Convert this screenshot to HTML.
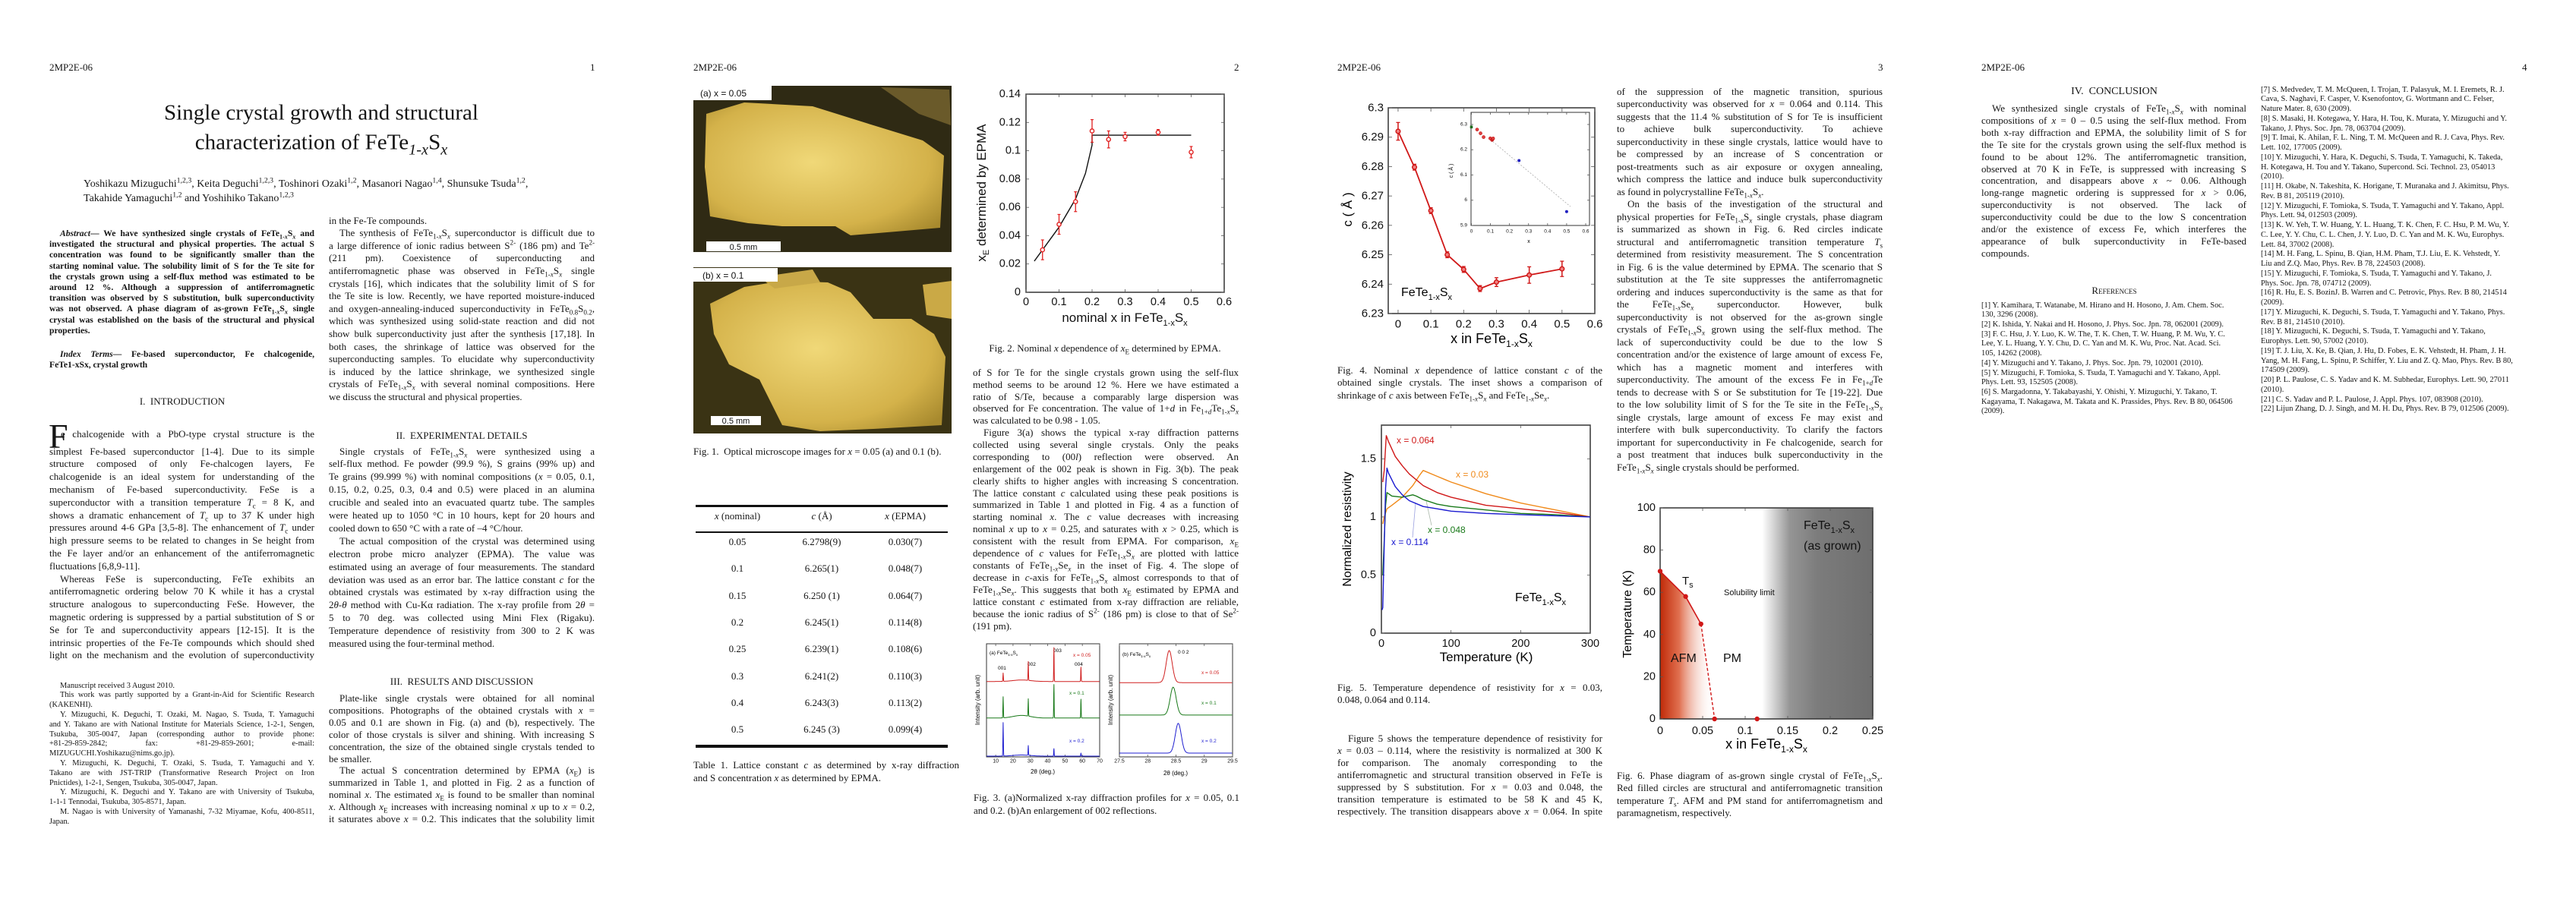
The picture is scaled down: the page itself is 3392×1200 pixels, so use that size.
<!DOCTYPE html>
<html><head><meta charset="utf-8">
<style>
*{margin:0;padding:0;box-sizing:border-box}
body{width:3392px;height:1200px;background:#fff;position:relative;overflow:hidden;font-family:"Liberation Serif",serif;color:#151515}
.a{position:absolute;white-space:nowrap}
.b{position:absolute;font-size:13px}
.b>div{overflow:hidden;white-space:normal;text-align:justify;text-align-last:justify}
.b>div.e{text-align-last:left}
.b>div.i{text-indent:14px}
.b.L>div{text-align:left;text-align-last:left}
sub,sup{font-size:70%;line-height:0}
.c{transform:translate(-50%,-50%)}
.m{transform:translateY(-50%)}
svg text{font-family:"Liberation Sans",sans-serif}
</style></head>
<body>
<svg id="charts" width="3392" height="1200" style="position:absolute;left:0;top:0" xmlns="http://www.w3.org/2000/svg">
<defs>
<linearGradient id="afmg" x1="0" x2="1" y1="0" y2="0"><stop offset="0" stop-color="#c02a08"/><stop offset="0.35" stop-color="#e07050"/><stop offset="1" stop-color="#fff" stop-opacity="0"/></linearGradient>
<linearGradient id="grayg" x1="0" x2="1" y1="0" y2="0"><stop offset="0" stop-color="#fff"/><stop offset="0.25" stop-color="#959595"/><stop offset="0.5" stop-color="#7c7c7c"/><stop offset="1" stop-color="#6e6e6e"/></linearGradient>
<radialGradient id="gold" cx="0.45" cy="0.45" r="0.7"><stop offset="0" stop-color="#f0d878"/><stop offset="0.7" stop-color="#d4b24a"/><stop offset="1" stop-color="#a88a2e"/></radialGradient>
</defs>
<g>
<rect x="913" y="113" width="340" height="219" fill="#2f2a14"/>
<polygon points="930,150 980,135 1070,140 1150,165 1215,185 1243,205 1238,300 1180,305 1120,310 1100,298 1030,298 985,294 935,285 928,220" fill="url(#gold)"/>
<polygon points="1160,115 1250,118 1252,165 1210,150" fill="#6a5a2a"/>
<rect x="913" y="113" width="103" height="19" fill="#fff"/>
<text x="922" y="127" font-size="12" fill="#111">(a)  x = 0.05</text>
<rect x="930" y="318" width="98" height="13" fill="#fff"/>
<text x="979" y="329" font-size="11" text-anchor="middle" fill="#111">0.5 mm</text>
</g>
<g>
<rect x="913" y="352" width="340" height="219" fill="#3a3314"/>
<polygon points="935,400 980,378 1030,370 1090,372 1120,385 1150,420 1200,420 1230,440 1245,470 1240,560 1150,565 1080,568 1030,560 1000,500 960,480 940,440" fill="url(#gold)"/>
<polygon points="1000,365 1070,355 1080,372 1020,380" fill="#c8a848"/>
<polygon points="1215,375 1253,370 1253,420 1220,415" fill="#caa946"/>
<rect x="913" y="353" width="111" height="18" fill="#fff"/>
<text x="925" y="367" font-size="12" fill="#111">(b)  x = 0.1</text>
<rect x="936" y="548" width="66" height="12" fill="#fff"/>
<text x="969" y="558" font-size="11" text-anchor="middle" fill="#111">0.5 mm</text>
</g>
<text transform="translate(1298,254) rotate(-90)" font-size="17" text-anchor="middle" fill="#111">x<tspan font-size="11" dy="4">E</tspan><tspan dy="-4"> determined by EPMA</tspan></text>
<text x="1481" y="424" font-size="17" text-anchor="middle" fill="#111">nominal x in FeTe<tspan font-size="11" dy="5">1-x</tspan><tspan dy="-5">S</tspan><tspan font-size="11" dy="5">x</tspan></text>
<text transform="translate(1290,922) rotate(-90)" font-size="8" text-anchor="middle">Intensity (arb. unit)</text>
<text x="1373" y="1019" font-size="8" text-anchor="middle">2θ (deg.)</text>
<text transform="translate(1465,922) rotate(-90)" font-size="8" text-anchor="middle">Intensity (arb. unit)</text>
<text x="1548" y="1021" font-size="8" text-anchor="middle">2θ (deg.)</text>
<text x="1303" y="862" font-size="6.5">(a)  FeTe<tspan font-size="4.5" dy="2">1-x</tspan><tspan dy="-2">S</tspan><tspan font-size="4.5" dy="2">x</tspan></text>
<text x="1314" y="882" font-size="6.5">001</text>
<text x="1353" y="877" font-size="6.5">002</text>
<text x="1387" y="859" font-size="6.5">003</text>
<text x="1415" y="877" font-size="6.5">004</text>
<text x="1413" y="865" font-size="6.5" fill="#d02020">x = 0.05</text>
<text x="1408" y="915" font-size="6.5" fill="#1a7a1a">x = 0.1</text>
<text x="1408" y="978" font-size="6.5" fill="#2020d0">x = 0.2</text>
<text x="1478" y="864" font-size="6.5">(b)  FeTe<tspan font-size="4.5" dy="2">1-x</tspan><tspan dy="-2">S</tspan><tspan font-size="4.5" dy="2">x</tspan></text>
<text x="1551" y="861" font-size="6.5">0 0 2</text>
<text x="1582" y="888" font-size="6.5" fill="#d02020">x = 0.05</text>
<text x="1582" y="928" font-size="6.5" fill="#1a7a1a">x = 0.1</text>
<text x="1582" y="978" font-size="6.5" fill="#2020d0">x = 0.2</text>
<text transform="translate(1780,276) rotate(-90)" font-size="17" text-anchor="middle">c ( Å )</text>
<text x="1964" y="452" font-size="18" text-anchor="middle">x in FeTe<tspan font-size="12" dy="5">1-x</tspan><tspan dy="-5">S</tspan><tspan font-size="12" dy="5">x</tspan></text>
<text x="1845" y="390" font-size="16">FeTe<tspan font-size="11" dy="5">1-x</tspan><tspan dy="-5">S</tspan><tspan font-size="11" dy="5">x</tspan></text>
<text transform="translate(1913,225) rotate(-90)" font-size="7" text-anchor="middle">c ( Å )</text>
<text x="2013" y="320" font-size="7" text-anchor="middle">x</text>
<rect x="2021" y="155" width="63" height="42" fill="#fff" stroke="#444" stroke-width="0.8"/>
<circle cx="2030" cy="163" r="1.8" fill="none" stroke="#e03030" stroke-width="0.7"/>
<text x="2036" y="166" font-size="6.5" fill="#e03030">FeTe<tspan font-size="4" dy="2">1-x</tspan><tspan dy="-2">S</tspan><tspan font-size="4" dy="2">x</tspan></text>
<circle cx="2030" cy="176" r="1.8" fill="none" stroke="#3030e0" stroke-width="0.7"/>
<text x="2036" y="179" font-size="6.5" fill="#3030e0">FeTe<tspan font-size="4" dy="2">1-x</tspan><tspan dy="-2">Se</tspan><tspan font-size="4" dy="2">x</tspan></text>
<rect x="2028.5" y="187" width="3" height="3" fill="#1a6a1a"/>
<text x="2036" y="191" font-size="6.5" fill="#1a6a1a">FeTe</text>
<text transform="translate(1779,697) rotate(-90)" font-size="16" text-anchor="middle">Normalized resistivity</text>
<text x="1957" y="871" font-size="17" text-anchor="middle">Temperature (K)</text>
<text x="1995" y="792" font-size="16">FeTe<tspan font-size="11" dy="5">1-x</tspan><tspan dy="-5">S</tspan><tspan font-size="11" dy="5">x</tspan></text>
<text x="1839" y="584" font-size="12" fill="#d01818">x = 0.064</text>
<text x="1917" y="629" font-size="12" fill="#f08a1a">x = 0.03</text>
<text x="1880" y="702" font-size="12" fill="#1a7a1a">x = 0.048</text>
<text x="1832" y="718" font-size="12" fill="#1a1ad0">x = 0.114</text>
<line x1="1860" y1="708" x2="1864" y2="662" stroke="#9aa0e0" stroke-width="0.8"/>
<line x1="1885" y1="692" x2="1878" y2="660" stroke="#aab8aa" stroke-width="0.8"/>
<text transform="translate(2148,809) rotate(-90)" font-size="16" text-anchor="middle">Temperature (K)</text>
<text x="2326" y="986" font-size="18" text-anchor="middle">x in FeTe<tspan font-size="12" dy="5">1-x</tspan><tspan dy="-5">S</tspan><tspan font-size="12" dy="5">x</tspan></text>
</svg>

<div class="a m" style="left:65px;top:89px;font-size:13px">2MP2E-06</div>
<div class="a m" style="left:777px;top:89px;font-size:13px">1</div>
<div class="a c" style="left:423px;top:149px;font-size:29px">Single crystal growth and structural</div>
<div class="a c" style="left:423px;top:188px;font-size:29px">characterization of FeTe<sub><i>1-x</i></sub>S<sub><i>x</i></sub></div>
<div class="a m" style="left:110px;top:243px;font-size:14px">Yoshikazu Mizuguchi<sup>1,2,3</sup>, Keita Deguchi<sup>1,2,3</sup>, Toshinori Ozaki<sup>1,2</sup>, Masanori Nagao<sup>1,4</sup>, Shunsuke Tsuda<sup>1,2</sup>,</div>
<div class="a m" style="left:110px;top:262px;font-size:14px">Takahide Yamaguchi<sup>1,2</sup> and Yoshihiko Takano<sup>1,2,3</sup></div>

<div class="b" style="left:65px;top:301px;width:349px;font-size:11.6px;font-weight:bold;line-height:14.2px">
<div class="i"><i>Abstract</i>— We have synthesized single crystals of FeTe<sub>1-<i>x</i></sub>S<sub><i>x</i></sub> and</div>
<div>investigated the structural and physical properties. The actual S</div>
<div>concentration was found to be significantly smaller than the</div>
<div>starting nominal value. The solubility limit of S for the Te site for</div>
<div>the crystals grown using a self-flux method was estimated to be</div>
<div>around 12 %. Although a suppression of antiferromagnetic</div>
<div>transition was observed by S substitution, bulk superconductivity</div>
<div>was not observed. A phase diagram of as-grown FeTe<sub>1-<i>x</i></sub>S<sub><i>x</i></sub> single</div>
<div>crystal was established on the basis of the structural and physical</div>
<div class="e">properties.</div>
</div>
<div class="b" style="left:65px;top:460px;width:349px;font-size:11.6px;font-weight:bold;line-height:14.2px">
<div class="i"><i>Index Terms</i>— Fe-based superconductor, Fe chalcogenide,</div>
<div class="e">FeTe1-xSx, crystal growth</div>
</div>
<div class="a c" style="left:240px;top:529px;font-size:13px">I. &nbsp;INTRODUCTION</div>
<div class="a" style="left:64px;top:552px;font-size:46px;line-height:46px">F</div>
<div class="b" style="left:80px;top:564px;width:334px;line-height:16.8px"><div>e chalcogenide with a PbO-type crystal structure is the</div></div>
<div class="b" style="left:65px;top:586.6px;width:349px;line-height:16.8px">
<div>simplest Fe-based superconductor [1-4]. Due to its simple</div>
<div>structure composed of only Fe-chalcogen layers, Fe</div>
<div>chalcogenide is an ideal system for understanding of the</div>
<div>mechanism of Fe-based superconductivity. FeSe is a</div>
<div>superconductor with a transition temperature <i>T</i><sub>c</sub> = 8 K, and</div>
<div>shows a dramatic enhancement of <i>T</i><sub>c</sub> up to 37 K under high</div>
<div>pressures around 4-6 GPa [3,5-8]. The enhancement of <i>T</i><sub>c</sub> under</div>
<div>high pressure seems to be related to changes in Se height from</div>
<div>the Fe layer and/or an enhancement of the antiferromagnetic</div>
<div class="e">fluctuations [6,8,9-11].</div>
<div class="i">Whereas FeSe is superconducting, FeTe exhibits an</div>
<div>antiferromagnetic ordering below 70 K while it has a crystal</div>
<div>structure analogous to superconducting FeSe. However, the</div>
<div>magnetic ordering is suppressed by a partial substitution of S or</div>
<div>Se for Te and superconductivity appears [12-15]. It is the</div>
<div>intrinsic properties of the Fe-Te compounds which should shed</div>
<div>light on the mechanism and the evolution of superconductivity</div>
</div>
<div class="b" style="left:65px;top:897.6px;width:349px;font-size:10.4px;line-height:12.8px">
<div class="i e">Manuscript received 3 August 2010.</div>
<div class="i">This work was partly supported by a Grant-in-Aid for Scientific Research</div>
<div class="e">(KAKENHI).</div>
<div class="i">Y. Mizuguchi, K. Deguchi, T. Ozaki, M. Nagao, S. Tsuda, T. Yamaguchi</div>
<div>and Y. Takano are with National Institute for Materials Science, 1-2-1, Sengen,</div>
<div>Tsukuba, 305-0047, Japan (corresponding author to provide phone:</div>
<div>+81-29-859-2842; fax: +81-29-859-2601; e-mail:</div>
<div class="e">MIZUGUCHI.Yoshikazu@nims.go.jp).</div>
<div class="i">Y. Mizuguchi, K. Deguchi, T. Ozaki, S. Tsuda, T. Yamaguchi and Y.</div>
<div>Takano are with JST-TRIP (Transformative Research Project on Iron</div>
<div class="e">Pnictides), 1-2-1, Sengen, Tsukuba, 305-0047, Japan.</div>
<div class="i">Y. Mizuguchi, K. Deguchi and Y. Takano are with University of Tsukuba,</div>
<div class="e">1-1-1 Tennodai, Tsukuba, 305-8571, Japan.</div>
<div class="i">M. Nagao is with University of Yamanashi, 7-32 Miyamae, Kofu, 400-8511,</div>
<div class="e">Japan.</div>
</div>
<div class="b" style="left:433px;top:282.7px;width:350px;line-height:16.6px">
<div class="e">in the Fe-Te compounds.</div>
<div class="i">The synthesis of FeTe<sub>1-<i>x</i></sub>S<sub><i>x</i></sub> superconductor is difficult due to</div>
<div>a large difference of ionic radius between S<sup>2-</sup> (186 pm) and Te<sup>2-</sup></div>
<div>(211 pm). Coexistence of superconducting and</div>
<div>antiferromagnetic phase was observed in FeTe<sub>1-<i>x</i></sub>S<sub><i>x</i></sub> single</div>
<div>crystals [16], which indicates that the solubility limit of S for</div>
<div>the Te site is low. Recently, we have reported moisture-induced</div>
<div>and oxygen-annealing-induced superconductivity in FeTe<sub>0.8</sub>S<sub>0.2</sub>,</div>
<div>which was synthesized using solid-state reaction and did not</div>
<div>show bulk superconductivity just after the synthesis [17,18]. In</div>
<div>both cases, the shrinkage of lattice was observed for the</div>
<div>superconducting samples. To elucidate why superconductivity</div>
<div>is induced by the lattice shrinkage, we synthesized single</div>
<div>crystals of FeTe<sub>1-<i>x</i></sub>S<sub><i>x</i></sub> with several nominal compositions. Here</div>
<div class="e">we discuss the structural and physical properties.</div>
</div>
<div class="a c" style="left:608px;top:574px;font-size:13px">II. &nbsp;EXPERIMENTAL DETAILS</div>
<div class="b" style="left:433px;top:586.5px;width:350px;line-height:16.9px">
<div class="i">Single crystals of FeTe<sub>1-<i>x</i></sub>S<sub><i>x</i></sub> were synthesized using a</div>
<div>self-flux method. Fe powder (99.9 %), S grains (99% up) and</div>
<div>Te grains (99.999 %) with nominal compositions (<i>x</i> = 0.05, 0.1,</div>
<div>0.15, 0.2, 0.25, 0.3, 0.4 and 0.5) were placed in an alumina</div>
<div>crucible and sealed into an evacuated quartz tube. The samples</div>
<div>were heated up to 1050 °C in 10 hours, kept for 20 hours and</div>
<div class="e">cooled down to 650 °C with a rate of –4 °C/hour.</div>
<div class="i">The actual composition of the crystal was determined using</div>
<div>electron probe micro analyzer (EPMA). The value was</div>
<div>estimated using an average of four measurements. The standard</div>
<div>deviation was used as an error bar. The lattice constant <i>c</i> for the</div>
<div>obtained crystals was estimated by x-ray diffraction using the</div>
<div>2<i>θ</i>-<i>θ</i> method with Cu-Kα radiation. The x-ray profile from 2<i>θ</i> =</div>
<div>5 to 70 deg. was collected using Mini Flex (Rigaku).</div>
<div>Temperature dependence of resistivity from 300 to 2 K was</div>
<div class="e">measured using the four-terminal method.</div>
</div>
<div class="a c" style="left:608px;top:898px;font-size:13px">III. &nbsp;RESULTS AND DISCUSSION</div>
<div class="b" style="left:433px;top:912px;width:350px;line-height:15.9px">
<div class="i">Plate-like single crystals were obtained for all nominal</div>
<div>compositions. Photographs of the obtained crystals with <i>x</i> =</div>
<div>0.05 and 0.1 are shown in Fig. (a) and (b), respectively. The</div>
<div>color of those crystals is silver and shining. With increasing S</div>
<div>concentration, the size of the obtained single crystals tended to</div>
<div class="e">be smaller.</div>
<div class="i">The actual S concentration determined by EPMA (<i>x</i><sub>E</sub>) is</div>
<div>summarized in Table 1, and plotted in Fig. 2 as a function of</div>
<div>nominal <i>x</i>. The estimated <i>x</i><sub>E</sub> is found to be smaller than nominal</div>
<div><i>x</i>. Although <i>x</i><sub>E</sub> increases with increasing nominal <i>x</i> up to <i>x</i> = 0.2,</div>
<div>it saturates above <i>x</i> = 0.2. This indicates that the solubility limit</div>
</div>

<div class="a m" style="left:913px;top:89px;font-size:13px">2MP2E-06</div>
<div class="a m" style="left:1625px;top:89px;font-size:13px">2</div>
<div class="a m" style="left:913px;top:595px;font-size:13px">Fig. 1. &nbsp;Optical microscope images for <i>x</i> = 0.05 (a) and 0.1 (b).</div>
<div class="a" style="left:916px;top:665px;width:332px;height:3px;background:#111"></div>
<div class="a" style="left:916px;top:700px;width:332px;height:2px;background:#111"></div>
<div class="a" style="left:916px;top:981px;width:332px;height:4px;background:#111"></div>
<div class="a c" style="left:971px;top:680px;font-size:13px"><i>x</i> (nominal)</div>
<div class="a c" style="left:1082px;top:680px;font-size:13px"><i>c</i> (Å)</div>
<div class="a c" style="left:1192px;top:680px;font-size:13px"><i>x</i> (EPMA)</div>
<div id="tbl"></div>
<div class="b" style="left:913px;top:998.5px;width:350px;line-height:17px">
<div>Table 1. Lattice constant <i>c</i> as determined by x-ray diffraction</div>
<div class="e">and S concentration <i>x</i> as determined by EPMA.</div>
</div>
<div class="a c" style="left:1455px;top:459px;font-size:13px">Fig. 2. Nominal <i>x</i> dependence of <i>x</i><sub>E</sub> determined by EPMA.</div>
<div class="b" style="left:1281px;top:483px;width:350px;line-height:15.8px">
<div>of S for Te for the single crystals grown using the self-flux</div>
<div>method seems to be around 12 %. Here we have estimated a</div>
<div>ratio of S/Te, because a comparably large dispersion was</div>
<div>observed for Fe concentration. The value of 1+<i>d</i> in Fe<sub>1+<i>d</i></sub>Te<sub>1-<i>x</i></sub>S<sub><i>x</i></sub></div>
<div class="e">was calculated to be 0.98 - 1.05.</div>
</div>
<div class="b" style="left:1281px;top:562px;width:350px;line-height:15.9px">
<div class="i">Figure 3(a) shows the typical x-ray diffraction patterns</div>
<div>collected using several single crystals. Only the peaks</div>
<div>corresponding to (00<i>l</i>) reflection were observed. An</div>
<div>enlargement of the 002 peak is shown in Fig. 3(b). The peak</div>
<div>clearly shifts to higher angles with increasing S concentration.</div>
<div>The lattice constant <i>c</i> calculated using these peak positions is</div>
<div>summarized in Table 1 and plotted in Fig. 4 as a function of</div>
<div>starting nominal <i>x</i>. The <i>c</i> value decreases with increasing</div>
<div>nominal <i>x</i> up to <i>x</i> = 0.25, and saturates with <i>x</i> &gt; 0.25, which is</div>
<div>consistent with the result from EPMA. For comparison, <i>x</i><sub>E</sub></div>
<div>dependence of <i>c</i> values for FeTe<sub>1-<i>x</i></sub>S<sub><i>x</i></sub> are plotted with lattice</div>
<div>constants of FeTe<sub>1-<i>x</i></sub>Se<sub><i>x</i></sub> in the inset of Fig. 4. The slope of</div>
<div>decrease in <i>c</i>-axis for FeTe<sub>1-<i>x</i></sub>S<sub><i>x</i></sub> almost corresponds to that of</div>
<div>FeTe<sub>1-<i>x</i></sub>Se<sub><i>x</i></sub>. This suggests that both <i>x</i><sub>E</sub> estimated by EPMA and</div>
<div>lattice constant <i>c</i> estimated from x-ray diffraction are reliable,</div>
<div>because the ionic radius of S<sup>2-</sup> (186 pm) is close to that of Se<sup>2-</sup></div>
<div class="e">(191 pm).</div>
</div>
<div class="b" style="left:1282px;top:1041.5px;width:350px;line-height:17px">
<div>Fig. 3. (a)Normalized x-ray diffraction profiles for <i>x</i> = 0.05, 0.1</div>
<div class="e">and 0.2. (b)An enlargement of 002 reflections.</div>
</div>

<div class="a m" style="left:1761px;top:89px;font-size:13px">2MP2E-06</div>
<div class="a m" style="left:2473px;top:89px;font-size:13px">3</div>
<div class="b" style="left:1761px;top:479.7px;width:349px;line-height:16.5px">
<div>Fig. 4. Nominal <i>x</i> dependence of lattice constant <i>c</i> of the</div>
<div>obtained single crystals. The inset shows a comparison of</div>
<div class="e">shrinkage of <i>c</i> axis between FeTe<sub>1-<i>x</i></sub>S<sub><i>x</i></sub> and FeTe<sub>1-<i>x</i></sub>Se<sub><i>x</i></sub>.</div>
</div>
<div class="b" style="left:1761px;top:898px;width:349px;line-height:16px">
<div>Fig. 5. Temperature dependence of resistivity for <i>x</i> = 0.03,</div>
<div class="e">0.048, 0.064 and 0.114.</div>
</div>
<div class="b" style="left:1761px;top:965px;width:349px;line-height:16px">
<div class="i">Figure 5 shows the temperature dependence of resistivity for</div>
<div><i>x</i> = 0.03 – 0.114, where the resistivity is normalized at 300 K</div>
<div>for comparison. The anomaly corresponding to the</div>
<div>antiferromagnetic and structural transition observed in FeTe is</div>
<div>suppressed by S substitution. For <i>x</i> = 0.03 and 0.048, the</div>
<div>transition temperature is estimated to be 58 K and 45 K,</div>
<div>respectively. The transition disappears above <i>x</i> = 0.064. In spite</div>
</div>
<div class="b" style="left:2129px;top:112.7px;width:350px;line-height:16.5px">
<div>of the suppression of the magnetic transition, spurious</div>
<div>superconductivity was observed for <i>x</i> = 0.064 and 0.114. This</div>
<div>suggests that the 11.4 % substitution of S for Te is insufficient</div>
<div>to achieve bulk superconductivity. To achieve</div>
<div>superconductivity in these single crystals, lattice would have to</div>
<div>be compressed by an increase of S concentration or</div>
<div>post-treatments such as air exposure or oxygen annealing,</div>
<div>which compress the lattice and induce bulk superconductivity</div>
<div class="e">as found in polycrystalline FeTe<sub>1-<i>x</i></sub>S<sub><i>x</i></sub>.</div>
<div class="i">On the basis of the investigation of the structural and</div>
<div>physical properties for FeTe<sub>1-<i>x</i></sub>S<sub><i>x</i></sub> single crystals, phase diagram</div>
<div>is summarized as shown in Fig. 6. Red circles indicate</div>
<div>structural and antiferromagnetic transition temperature <i>T</i><sub>s</sub></div>
<div>determined from resistivity measurement. The S concentration</div>
<div>in Fig. 6 is the value determined by EPMA. The scenario that S</div>
<div>substitution at the Te site suppresses the antiferromagnetic</div>
<div>ordering and induces superconductivity is the same as that for</div>
<div>the FeTe<sub>1-<i>x</i></sub>Se<sub><i>x</i></sub> superconductor. However, bulk</div>
<div>superconductivity is not observed for the as-grown single</div>
<div>crystals of FeTe<sub>1-<i>x</i></sub>S<sub><i>x</i></sub> grown using the self-flux method. The</div>
<div>lack of superconductivity could be due to the low S</div>
<div>concentration and/or the existence of large amount of excess Fe,</div>
<div>which has a magnetic moment and interferes with</div>
<div>superconductivity. The amount of the excess Fe in Fe<sub>1+<i>d</i></sub>Te</div>
<div>tends to decrease with S or Se substitution for Te [19-22]. Due</div>
<div>to the low solubility limit of S for the Te site in the FeTe<sub>1-<i>x</i></sub>S<sub><i>x</i></sub></div>
<div>single crystals, large amount of excess Fe may exist and</div>
<div>interfere with bulk superconductivity. To clarify the factors</div>
<div>important for superconductivity in Fe chalcogenide, search for</div>
<div>a post treatment that induces bulk superconductivity in the</div>
<div class="e">FeTe<sub>1-<i>x</i></sub>S<sub><i>x</i></sub> single crystals should be performed.</div>
</div>
<div class="b" style="left:2129px;top:1013.7px;width:350px;line-height:16.6px">
<div>Fig. 6. Phase diagram of as-grown single crystal of FeTe<sub>1-<i>x</i></sub>S<sub><i>x</i></sub>.</div>
<div>Red filled circles are structural and antiferromagnetic transition</div>
<div>temperature <i>T</i><sub>s</sub>. AFM and PM stand for antiferromagnetism and</div>
<div class="e">paramagnetism, respectively.</div>
</div>

<div class="a m" style="left:2609px;top:89px;font-size:13px">2MP2E-06</div>
<div class="a m" style="left:3321px;top:89px;font-size:13px">4</div>
<div class="a c" style="left:2784px;top:121px;font-size:14px">IV. &nbsp;CONCLUSION</div>
<div class="b" style="left:2609px;top:135px;width:349px;line-height:15.9px">
<div class="i">We synthesized single crystals of FeTe<sub>1-<i>x</i></sub>S<sub><i>x</i></sub> with nominal</div>
<div>compositions of <i>x</i> = 0 – 0.5 using the self-flux method. From</div>
<div>both x-ray diffraction and EPMA, the solubility limit of S for</div>
<div>the Te site for the crystals grown using the self-flux method is</div>
<div>found to be about 12%. The antiferromagnetic transition,</div>
<div>observed at 70 K in FeTe, is suppressed with increasing S</div>
<div>concentration, and disappears above <i>x</i> ~ 0.06. Although</div>
<div>long-range magnetic ordering is suppressed for <i>x</i> &gt; 0.06,</div>
<div>superconductivity is not observed. The lack of</div>
<div>superconductivity could be due to the low S concentration</div>
<div>and/or the existence of excess Fe, which interferes the</div>
<div>appearance of bulk superconductivity in FeTe-based</div>
<div class="e">compounds.</div>
</div>
<div class="a c" style="left:2784px;top:383px;font-size:13px;font-variant:small-caps">References</div>
<div class="b L" style="left:2609px;top:396.6px;width:352px;font-size:10.4px;line-height:12.7px">
<div>[1] Y. Kamihara, T. Watanabe, M. Hirano and H. Hosono, J. Am. Chem. Soc.</div>
<div>130, 3296 (2008).</div>
<div>[2] K. Ishida, Y. Nakai and H. Hosono, J. Phys. Soc. Jpn. 78, 062001 (2009).</div>
<div>[3] F. C. Hsu, J. Y. Luo, K. W. The, T. K. Chen, T. W. Huang, P. M. Wu, Y. C.</div>
<div>Lee, Y. L. Huang, Y. Y. Chu, D. C. Yan and M. K. Wu, Proc. Nat. Acad. Sci.</div>
<div>105, 14262 (2008).</div>
<div>[4] Y. Mizuguchi and Y. Takano, J. Phys. Soc. Jpn. 79, 102001 (2010).</div>
<div>[5] Y. Mizuguchi, F. Tomioka, S. Tsuda, T. Yamaguchi and Y. Takano, Appl.</div>
<div>Phys. Lett. 93, 152505 (2008).</div>
<div>[6] S. Margadonna, Y. Takabayashi, Y. Ohishi, Y. Mizuguchi, Y. Takano, T.</div>
<div>Kagayama, T. Nakagawa, M. Takata and K. Prassides, Phys. Rev. B 80, 064506</div>
<div>(2009).</div>
</div>
<div class="b L" style="left:2977px;top:112.6px;width:355px;font-size:10.4px;line-height:12.75px">
<div>[7] S. Medvedev, T. M. McQueen, I. Trojan, T. Palasyuk, M. I. Eremets, R. J.</div>
<div>Cava, S. Naghavi, F. Casper, V. Ksenofontov, G. Wortmann and C. Felser,</div>
<div>Nature Mater. 8, 630 (2009).</div>
<div>[8] S. Masaki, H. Kotegawa, Y. Hara, H. Tou, K. Murata, Y. Mizuguchi and Y.</div>
<div>Takano, J. Phys. Soc. Jpn. 78, 063704 (2009).</div>
<div>[9] T. Imai, K. Ahilan, F. L. Ning, T. M. McQueen and R. J. Cava, Phys. Rev.</div>
<div>Lett. 102, 177005 (2009).</div>
<div>[10] Y. Mizuguchi, Y. Hara, K. Deguchi, S. Tsuda, T. Yamaguchi, K. Takeda,</div>
<div>H. Kotegawa, H. Tou and Y. Takano, Supercond. Sci. Technol. 23, 054013</div>
<div>(2010).</div>
<div>[11] H. Okabe, N. Takeshita, K. Horigane, T. Muranaka and J. Akimitsu, Phys.</div>
<div>Rev. B 81, 205119 (2010).</div>
<div>[12] Y. Mizuguchi, F. Tomioka, S. Tsuda, T. Yamaguchi and Y. Takano, Appl.</div>
<div>Phys. Lett. 94, 012503 (2009).</div>
<div>[13] K. W. Yeh, T. W. Huang, Y. L. Huang, T. K. Chen, F. C. Hsu, P. M. Wu, Y.</div>
<div>C. Lee, Y. Y. Chu, C. L. Chen, J. Y. Luo, D. C. Yan and M. K. Wu, Europhys.</div>
<div>Lett. 84, 37002 (2008).</div>
<div>[14] M. H. Fang, L. Spinu, B. Qian, H.M. Pham, T.J. Liu, E. K. Vehstedt, Y.</div>
<div>Liu and Z.Q. Mao, Phys. Rev. B 78, 224503 (2008).</div>
<div>[15] Y. Mizuguchi, F. Tomioka, S. Tsuda, T. Yamaguchi and Y. Takano, J.</div>
<div>Phys. Soc. Jpn. 78, 074712 (2009).</div>
<div>[16] R. Hu, E. S. BozinJ. B. Warren and C. Petrovic, Phys. Rev. B 80, 214514</div>
<div>(2009).</div>
<div>[17] Y. Mizuguchi, K. Deguchi, S. Tsuda, T. Yamaguchi and Y. Takano, Phys.</div>
<div>Rev. B 81, 214510 (2010).</div>
<div>[18] Y. Mizuguchi, K. Deguchi, S. Tsuda, T. Yamaguchi and Y. Takano,</div>
<div>Europhys. Lett. 90, 57002 (2010).</div>
<div>[19] T. J. Liu, X. Ke, B. Qian, J. Hu, D. Fobes, E. K. Vehstedt, H. Pham, J. H.</div>
<div>Yang, M. H. Fang, L. Spinu, P. Schiffer, Y. Liu and Z. Q. Mao, Phys. Rev. B 80,</div>
<div>174509 (2009).</div>
<div>[20] P. L. Paulose, C. S. Yadav and K. M. Subhedar, Europhys. Lett. 90, 27011</div>
<div>(2010).</div>
<div>[21] C. S. Yadav and P. L. Paulose, J. Appl. Phys. 107, 083908 (2010).</div>
<div>[22] Lijun Zhang, D. J. Singh, and M. H. Du, Phys. Rev. B 79, 012506 (2009).</div>
</div>

<script>
const tblNominal=['0.05','0.1','0.15','0.2','0.25','0.3','0.4','0.5'];
const tblC=['6.2798(9)','6.265(1)','6.250 (1)','6.245(1)','6.239(1)','6.241(2)','6.243(3)','6.245 (3)'];
const tblEpma=['0.030(7)','0.048(7)','0.064(7)','0.114(8)','0.108(6)','0.110(3)','0.113(2)','0.099(4)'];

const fig2X=[0.05,0.1,0.15,0.2,0.25,0.3,0.4,0.5];
const fig2Y=[0.030,0.048,0.064,0.114,0.108,0.110,0.113,0.099];
const fig2Err=[0.007,0.007,0.007,0.008,0.006,0.003,0.002,0.004];
const fig2FitX=[0.025,0.05,0.1,0.15,0.18,0.2,0.2,0.5];
const fig2FitY=[0.022,0.030,0.046,0.066,0.084,0.104,0.111,0.111];
const fig2XTicks=[0,0.1,0.2,0.3,0.4,0.5,0.6];
const fig2XLabels=['0','0.1','0.2','0.3','0.4','0.5','0.6'];
const fig2YTicks=[0,0.02,0.04,0.06,0.08,0.1,0.12,0.14];
const fig2YLabels=['0','0.02','0.04','0.06','0.08','0.1','0.12','0.14'];

const xrdPeakPos=[14.3,28.8,43.6,59.2];
const xrdRed=[0.22,0.5,0.9,0.38];
const xrdGreen=[0.56,0.46,0.89,0.5];
const xrdBlue=[0.89,0.26,0.2,0.08];
const xrdOffsets=[2.0,1.03,0.02];
const xrdHump=[0.04,0.07,0.03];
const xrdXTicks=[10,20,30,40,50,60,70];
const xrdXLabels=['10','20','30','40','50','60','70'];
const p002Pos=[28.38,28.45,28.54];
const p002Ht=[0.85,0.74,0.79];
const p002Base=[1.97,1.11,0.10];
const p002XTicks=[27.5,28,28.5,29,29.5];
const p002XLabels=['27.5','28','28.5','29','29.5'];

const fig4X=[0,0.05,0.1,0.15,0.2,0.25,0.3,0.4,0.5];
const fig4C=[6.292,6.2798,6.265,6.250,6.245,6.2385,6.2407,6.2431,6.2452];
const fig4Err=[0.003,0.001,0.001,0.001,0.001,0.001,0.0015,0.0028,0.0026];
const fig4XTicks=[0,0.1,0.2,0.3,0.4,0.5,0.6];
const fig4XLabels=['0','0.1','0.2','0.3','0.4','0.5','0.6'];
const fig4YTicks=[6.23,6.24,6.25,6.26,6.27,6.28,6.29,6.3];
const fig4YLabels=['6.23','6.24','6.25','6.26','6.27','6.28','6.29','6.3'];
const insetSX=[0.030,0.048,0.064,0.099,0.108,0.110,0.113,0.114];
const insetSC=[6.2798,6.265,6.250,6.2452,6.2385,6.2407,6.2431,6.245];
const insetSeX=[0.25,0.5];
const insetSeC=[6.157,5.955];
const insetFeTeX=[0];
const insetFeTeC=[6.29];
const insetTrendX=[0.1,0.52];
const insetTrendC=[6.24,5.975];
const insetXTicks=[0,0.1,0.2,0.3,0.4,0.5,0.6];
const insetXLabels=['0','0.1','0.2','0.3','0.4','0.5','0.6'];
const insetYTicks=[5.9,6,6.1,6.2,6.3];
const insetYLabels=['5.9','6','6.1','6.2','6.3'];

const rhoT003=[2,4,8,15,30,45,55,60,80,100,150,200,250,300];
const rhoV003=[0.94,1.0,1.07,1.1,1.17,1.27,1.36,1.4,1.35,1.3,1.2,1.12,1.06,1.0];
const rhoT0048=[2,4,6,8,15,30,45,50,60,80,100,150,200,250,300];
const rhoV0048=[0.5,0.8,1.1,1.21,1.18,1.17,1.19,1.18,1.15,1.11,1.09,1.06,1.03,1.02,1.0];
const rhoT0064=[2,4,6,7,10,20,30,40,60,80,100,150,200,250,300];
const rhoV0064=[1.3,1.4,1.6,1.7,1.65,1.52,1.44,1.37,1.27,1.21,1.17,1.1,1.07,1.04,1.0];
const rhoT0114=[1,2,3,4,5,6,8,10,20,30,40,60,80,100,150,200,250,300];
const rhoV0114=[0.2,0.22,0.5,0.75,1.0,1.25,1.42,1.38,1.26,1.19,1.14,1.09,1.07,1.05,1.03,1.02,1.01,1.0];
const fig5XTicks=[0,100,200,300];
const fig5XLabels=['0','100','200','300'];
const fig5YTicks=[0,0.5,1,1.5];
const fig5YLabels=['0','0.5','1','1.5'];

const tsX=[0,0.03,0.048];
const tsT=[70,58,45];
const tsDashX=[0.048,0.064];
const tsDashT=[45,0];
const zeroX=[0.064,0.114];
const zeroT=[0,0];
const solubilityStart=0.12;
const fig6XTicks=[0,0.05,0.1,0.15,0.2,0.25];
const fig6XLabels=['0','0.05','0.1','0.15','0.2','0.25'];
const fig6YTicks=[0,20,40,60,80,100];
const fig6YLabels=['0','20','40','60','80','100'];

const tbl=document.getElementById('tbl');
const rowY0=714, rowDY=35.3;
tblNominal.forEach((v,i)=>{
  [[v,971],[tblC[i],1082],[tblEpma[i],1192]].forEach((c,j)=>{
    const d=document.createElement('div');
    d.className='a c';
    d.style.left=c[1]+'px';d.style.top=(rowY0+i*rowDY)+'px';d.style.fontSize='13px';
    d.textContent=c[0];
    
    
    tbl.appendChild(d);
  });
});

const NS='http://www.w3.org/2000/svg';
const svg=document.getElementById('charts');
function E(tag,attrs,parent){const e=document.createElementNS(NS,tag);for(const k in attrs)e.setAttribute(k,attrs[k]);(parent||svg).appendChild(e);return e;}
function sc(d0,d1,r0,r1){return v=>r0+(v-d0)*(r1-r0)/(d1-d0);}
function frame(name,box,X,Y,xt,xl,yt,yl,fs,xo,yo,tl,sw){
  const [x0,y0,x1,y1]=box;
  const r=E('rect',{x:x0,y:y0,width:x1-x0,height:y1-y0,fill:'none',stroke:'#333','stroke-width':sw});
  
  
  xt.forEach((v,i)=>{
    const x=X(v);
    const t1=E('line',{x1:x,x2:x,y1:y1,y2:y1-tl,stroke:'#555','stroke-width':0.8});
    
    
    const t2=E('line',{x1:x,x2:x,y1:y0,y2:y0+tl,stroke:'#555','stroke-width':0.8});
    
    
    const t=E('text',{x:x,y:y1+xo,'font-size':fs,'text-anchor':'middle','dominant-baseline':'central',fill:'#111'});
    t.textContent=xl[i];
    
    
  });
  yt.forEach((v,i)=>{
    const y=Y(v);
    const t1=E('line',{x1:x0,x2:x0+tl,y1:y,y2:y,stroke:'#555','stroke-width':0.8});
    
    
    const t2=E('line',{x1:x1,x2:x1-tl,y1:y,y2:y,stroke:'#555','stroke-width':0.8});
    
    
    const t=E('text',{x:x0-yo,y:y,'font-size':fs,'text-anchor':'end','dominant-baseline':'central',fill:'#111'});
    t.textContent=yl[i];
    
    
  });
}
function poly(xs,ys,X,Y,color,w,dash,name){
  const pts=xs.map((v,i)=>X(v).toFixed(1)+','+Y(ys[i]).toFixed(1)).join(' ');
  const p=E('polyline',{points:pts,fill:'none',stroke:color,'stroke-width':w,'stroke-dasharray':dash||'none','stroke-linejoin':'round'});
  
  
  return p;
}

{
  const box=[1351,124,1612,385];
  const X=sc(0,0.6,box[0],box[2]), Y=sc(0,0.14,box[3],box[1]);
  frame('fig2',box,X,Y,fig2XTicks,fig2XLabels,fig2YTicks,fig2YLabels,14.5,13,7,4,1.5);
  poly(fig2FitX,fig2FitY,X,Y,'#111',1.4,null,'fig2-fit-line');
  fig2X.forEach((v,i)=>{
    const x=X(v);
    const eb=E('line',{x1:x,x2:x,y1:Y(fig2Y[i]-fig2Err[i]),y2:Y(fig2Y[i]+fig2Err[i]),stroke:'#e02020','stroke-width':1.3});
    
    
    [fig2Y[i]-fig2Err[i],fig2Y[i]+fig2Err[i]].forEach(e=>{
      const cap=E('line',{x1:x-2,x2:x+2,y1:Y(e),y2:Y(e),stroke:'#e02020','stroke-width':1.2});
      
      
    });
    const c=E('circle',{cx:x,cy:Y(fig2Y[i]),r:2.6,fill:'#fff',stroke:'#e02020','stroke-width':1.4});
    
    
  });
}

{
  const boxA=[1299,848,1448,997];
  const XA=sc(4.7,70,boxA[0],boxA[2]), YA=sc(0,3,boxA[3],boxA[1]);
  frame('fig3a',boxA,XA,YA,xrdXTicks,xrdXLabels,[],[],7,6,4,3,1);
  const cols=['#d02020','#1a7a1a','#2020d0'];
  [xrdRed,xrdGreen,xrdBlue].forEach((hts,k)=>{
    const xs=[],ys=[];
    for(let t=4.8;t<=70;t+=0.1){
      let v=xrdOffsets[k]+xrdHump[k]*Math.exp(-Math.pow((t-25)/7,2));
      xrdPeakPos.forEach((p,j)=>{v+=hts[j]*Math.exp(-Math.pow((t-p)/0.18,2));});
      xs.push(t);ys.push(v);
    }
    poly(xs,ys,XA,YA,cols[k],1,null,'fig3a-pattern-'+k);
  });
  const boxB=[1474,848,1623,997];
  const XB=sc(27.5,29.5,boxB[0],boxB[2]), YB=sc(0,3,boxB[3],boxB[1]);
  frame('fig3b',boxB,XB,YB,p002XTicks,p002XLabels,[],[],7,6,4,3,1);
  p002Pos.forEach((p,k)=>{
    const xs=[],ys=[];
    for(let t=27.5;t<=29.5;t+=0.01){
      xs.push(t);ys.push(p002Base[k]+p002Ht[k]*Math.exp(-Math.pow((t-p)/0.075,2)));
    }
    poly(xs,ys,XB,YB,cols[k],1,null,'fig3b-peak-'+k);
  });
}

{
  const box=[1828,142,2100,413];
  const X=sc(-0.03,0.6,box[0],box[2]), Y=sc(6.23,6.3,box[3],box[1]);
  frame('fig4',box,X,Y,fig4XTicks,fig4XLabels,fig4YTicks,fig4YLabels,15,14,6,5,1.5);
  poly(fig4X,fig4C,X,Y,'#d01818',1.8,null,'fig4-series-line');
  fig4X.forEach((v,i)=>{
    const x=X(v);
    const eb=E('line',{x1:x,x2:x,y1:Y(fig4C[i]-fig4Err[i]),y2:Y(fig4C[i]+fig4Err[i]),stroke:'#d01818','stroke-width':1.5});
    
    
    [fig4C[i]-fig4Err[i],fig4C[i]+fig4Err[i]].forEach(e=>{
      const cap=E('line',{x1:x-2.5,x2:x+2.5,y1:Y(e),y2:Y(e),stroke:'#d01818','stroke-width':1.3});
      
      
    });
    const c=E('circle',{cx:x,cy:Y(fig4C[i]),r:2.8,fill:'#f08080',stroke:'#d01818','stroke-width':1.5});
    
    
  });
  const ib=[1937,148,2093,297];
  const bg=E('rect',{x:ib[0],y:ib[1],width:ib[2]-ib[0],height:ib[3]-ib[1],fill:'#fff'});
  
  
  const IX=sc(-0.002,0.62,ib[0],ib[2]), IY=sc(5.9,6.348,ib[3],ib[1]);
  frame('inset',ib,IX,IY,insetXTicks,insetXLabels,insetYTicks,insetYLabels,6.5,8,5,3,1);
  poly(insetTrendX,insetTrendC,IX,IY,'#aaa',0.8,'2,2','inset-trend-line');
  insetSX.forEach((v,i)=>{
    const c=E('circle',{cx:IX(v),cy:IY(insetSC[i]),r:2,fill:'#e04040',stroke:'#c01010','stroke-width':0.6});
    
    
  });
  insetSeX.forEach((v,i)=>{
    const c=E('circle',{cx:IX(v),cy:IY(insetSeC[i]),r:2,fill:'#2020c0'});
    
    
  });
  insetFeTeX.forEach((v,i)=>{
    const c=E('rect',{x:IX(v)-1.8,y:IY(insetFeTeC[i])-1.8,width:3.6,height:3.6,fill:'#1a6a1a'});
    
    
  });
}

{
  const box=[1819,560,2094,834];
  const X=sc(0,300,box[0],box[2]), Y=sc(0,1.79,box[3],box[1]);
  frame('fig5',box,X,Y,fig5XTicks,fig5XLabels,fig5YTicks,fig5YLabels,14.5,14,7,4,1.5);
  poly(rhoT003,rhoV003,X,Y,'#f08a1a',1.4,null,'fig5-series-x003');
  poly(rhoT0064,rhoV0064,X,Y,'#d01818',1.4,null,'fig5-series-x0064');
  poly(rhoT0048,rhoV0048,X,Y,'#1a7a1a',1.4,null,'fig5-series-x0048');
  poly(rhoT0114,rhoV0114,X,Y,'#1a1ad0',1.4,null,'fig5-series-x0114');
}

{
  const box=[2186,669,2466,947];
  const X=sc(0,0.25,box[0],box[2]), Y=sc(0,100,box[3],box[1]);
  const g=E('rect',{x:X(solubilityStart),y:box[1],width:box[2]-X(solubilityStart),height:box[3]-box[1],fill:'url(#grayg)'});
  
  
  const afmPts=[[0,0]].concat(tsX.map((v,i)=>[v,tsT[i]])).concat([[tsDashX[1],tsDashT[1]]]);
  const a=E('polygon',{points:afmPts.map(p=>X(p[0])+','+Y(p[1])).join(' '),fill:'url(#afmg)'});
  
  
  frame('fig6',box,X,Y,fig6XTicks,fig6XLabels,fig6YTicks,fig6YLabels,14.5,16,6,4,1.5);
  poly(tsX,tsT,X,Y,'#d01818',1.6,null,'ts-line');
  poly(tsDashX,tsDashT,X,Y,'#d01818',1.4,'4,2.5','ts-dashed-line');
  tsX.concat(zeroX).forEach((v,i)=>{
    const t=i<tsX.length?tsT[i]:zeroT[i-tsX.length];
    const c=E('circle',{cx:X(v),cy:Y(t),r:3.2,fill:'#d01818'});
    
    
  });
  const labels=[['Ts-label',2207,770,15,'#111','T'],['solubility-label',2270,784,11,'#111','Solubility limit'],['afm-label',2200,872,16,'#111','AFM'],['pm-label',2269,872,16,'#111','PM'],['fete-label',2375,697,16,'#111','FeTe'],['as-grown-label',2375,724,16,'#111','(as grown)']];
  labels.forEach(l=>{
    const t=E('text',{x:l[1]+(l[0]==='Ts-label'?8:0),y:l[2],'font-size':l[3],fill:l[4]});
    t.textContent=l[5];
    
    
    if(l[0]==='Ts-label'){const s=E('tspan',{'font-size':11,dy:4},t);s.textContent='s';}
    if(l[0]==='fete-label'){const s1=E('tspan',{'font-size':11,dy:5},t);s1.textContent='1-x';const s2=E('tspan',{dy:-5},t);s2.textContent='S';const s3=E('tspan',{'font-size':11,dy:5},t);s3.textContent='x';}
  });
}
</script>
</body></html>
